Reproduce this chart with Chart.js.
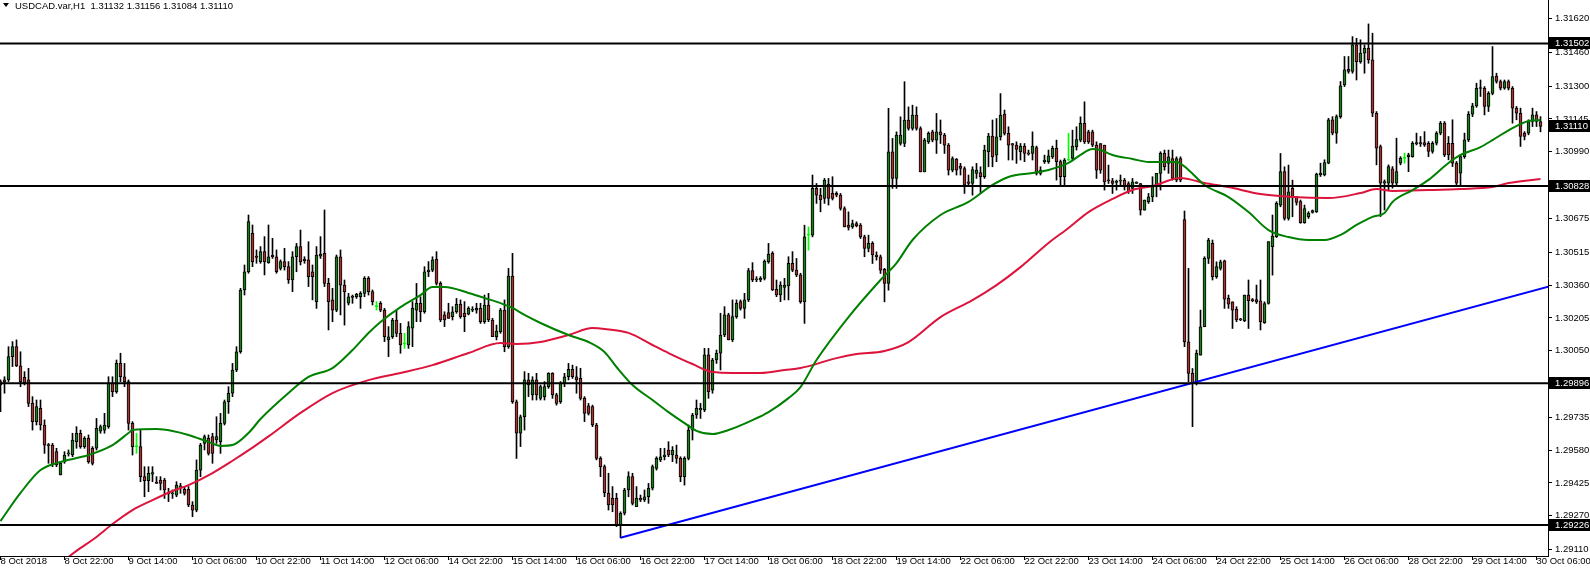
<!DOCTYPE html>
<html>
<head>
<meta charset="utf-8">
<script src="https://cdn.jsdelivr.net/npm/chart.js@4.4.0/dist/chart.umd.min.js"></script>
<style>
  html, body { margin: 0; padding: 0; background: #fff; }
  #wrap { width: 1590px; height: 570px; }
</style>
</head>
<body>
<div id="wrap"><canvas id="chart" width="1590" height="570"></canvas></div>
<script>
const symbolTitle = 'USDCAD.var,H1  1.31132 1.31156 1.31084 1.31110'

// one label every 16 hourly bars, the first one sits on bar -1
const firstBar = -1
const labelStep = 16
const timeLabels = ['8 Oct 2018', '8 Oct 22:00', '9 Oct 14:00', '10 Oct 06:00', '10 Oct 22:00', '11 Oct 14:00',
  '12 Oct 06:00', '14 Oct 22:00', '15 Oct 14:00', '16 Oct 06:00', '16 Oct 22:00', '17 Oct 14:00', '18 Oct 06:00',
  '18 Oct 22:00', '19 Oct 14:00', '22 Oct 06:00', '22 Oct 22:00', '23 Oct 14:00', '24 Oct 06:00', '24 Oct 22:00',
  '25 Oct 14:00', '26 Oct 06:00', '28 Oct 22:00', '29 Oct 14:00', '30 Oct 06:00']

const opens = [
  1.29904, 1.29912, 1.29912, 1.30022, 1.30069, 1.29978, 1.29924, 1.29912, 1.29801, 1.29715, 1.29778,
  1.29699, 1.29607, 1.29604, 1.29573, 1.29463, 1.29526, 1.29562, 1.29557, 1.29620, 1.29660,
  1.29597, 1.29636, 1.29589, 1.29589, 1.29670, 1.29675, 1.29691, 1.29896, 1.29856, 1.29990,
  1.29927, 1.29904, 1.29707, 1.29597, 1.29597, 1.29455, 1.29436, 1.29467, 1.29429, 1.29439,
  1.29439, 1.29379, 1.29373, 1.29368, 1.29404, 1.29395, 1.29395, 1.29321, 1.29297, 1.29486,
  1.29612, 1.29636, 1.29644, 1.29628, 1.29620, 1.29707, 1.29809, 1.29849, 1.29959, 1.30045,
  1.30337, 1.30423, 1.30605, 1.30497, 1.30471, 1.30518, 1.30466, 1.30501, 1.30494, 1.30439,
  1.30471, 1.30447, 1.30384, 1.30494, 1.30542, 1.30482, 1.30479, 1.30423, 1.30282, 1.30497,
  1.30510, 1.30368, 1.30290, 1.30242, 1.30494, 1.30360, 1.30274, 1.30302, 1.30305, 1.30305,
  1.30321, 1.30392, 1.30329, 1.30258, 1.30274, 1.30242, 1.30101, 1.30116, 1.30195, 1.30132,
  1.30082, 1.30077, 1.30156, 1.30242, 1.30274, 1.30234, 1.30423, 1.30431, 1.30482, 1.30368,
  1.30219, 1.30230, 1.30211, 1.30234, 1.30269, 1.30227, 1.30223, 1.30242, 1.30242, 1.30250,
  1.30187, 1.30266, 1.30195, 1.30116, 1.30140, 1.30242, 1.30069, 1.30403, 1.29809, 1.29660,
  1.29738, 1.29912, 1.29841, 1.29912, 1.29825, 1.29833, 1.29880, 1.29943, 1.29841, 1.29809,
  1.29896, 1.29927, 1.29962, 1.29927, 1.29919, 1.29825, 1.29789, 1.29786, 1.29699, 1.29541,
  1.29502, 1.29376, 1.29352, 1.29352, 1.29226, 1.29282, 1.29392, 1.29455, 1.29313, 1.29352,
  1.29345, 1.29360, 1.29400, 1.29494, 1.29534, 1.29549, 1.29581, 1.29557, 1.29557, 1.29541,
  1.29455, 1.29541, 1.29675, 1.29746, 1.29770, 1.29770, 1.30030, 1.29864, 1.30006, 1.30038,
  1.30124, 1.30219, 1.30101, 1.30211, 1.30282, 1.30250, 1.30290, 1.30428, 1.30384, 1.30384,
  1.30392, 1.30471, 1.30510, 1.30340, 1.30313, 1.30349, 1.30356, 1.30463, 1.30431, 1.30408,
  1.30281, 1.30596, 1.30596, 1.30817, 1.30785, 1.30769, 1.30837, 1.30793, 1.30793, 1.30785,
  1.30722, 1.30643, 1.30635, 1.30651, 1.30643, 1.30588, 1.30533, 1.30557, 1.30502, 1.30494,
  1.30434, 1.30368, 1.30990, 1.30864, 1.31029, 1.31029, 1.31140, 1.31100, 1.31163, 1.31100,
  1.30895, 1.31037, 1.31084, 1.31045, 1.31084, 1.31069, 1.31021, 1.30903, 1.30955, 1.30922,
  1.30911, 1.30848, 1.30840, 1.30888, 1.30891, 1.30872, 1.30990, 1.31064, 1.30974, 1.31061,
  1.31168, 1.31077, 1.31029, 1.31021, 1.30990, 1.31017, 1.30985, 1.30982, 1.31010, 1.30888,
  1.30943, 1.30943, 1.30966, 1.31006, 1.30943, 1.30872, 1.30951, 1.30958, 1.31014, 1.31045,
  1.31124, 1.31084, 1.31084, 1.31021, 1.31029, 1.31021, 1.30856, 1.30853, 1.30845, 1.30851,
  1.30856, 1.30840, 1.30817, 1.30840, 1.30840, 1.30714, 1.30754, 1.30777, 1.30825, 1.30888,
  1.30982, 1.30935, 1.30958, 1.30856, 1.30958, 1.30670, 1.30092, 1.29943, 1.29896, 1.30029,
  1.30163, 1.30486, 1.30557, 1.30400, 1.30439, 1.30475, 1.30297, 1.30281, 1.30245, 1.30201,
  1.30192, 1.30313, 1.30292, 1.30292, 1.30286, 1.30182, 1.30273, 1.30541, 1.30589, 1.30738,
  1.30896, 1.30675, 1.30817, 1.30778, 1.30754, 1.30655, 1.30683, 1.30703, 1.30707, 1.30881,
  1.30881, 1.30936, 1.31141, 1.31078, 1.31156, 1.31306, 1.31380, 1.31369, 1.31495, 1.31416,
  1.31456, 1.31479, 1.31424, 1.31172, 1.31015, 1.30841, 1.30841, 1.30909, 1.30841, 1.30936,
  1.30959, 1.30967, 1.30967, 1.31027, 1.31033, 1.31033, 1.31030, 1.30991, 1.31030, 1.31078,
  1.31125, 1.31030, 1.31030, 1.30936, 1.30889, 1.30967, 1.31046, 1.31167, 1.31207, 1.31289,
  1.31290, 1.31204, 1.31266, 1.31348, 1.31322, 1.31290, 1.31322, 1.31290, 1.31196, 1.31172,
  1.31078, 1.31078, 1.31133, 1.31164, 1.31132
]
const highs = [
  1.29912, 1.29927, 1.30069, 1.30093, 1.30101, 1.30045, 1.29951, 1.29967, 1.29833, 1.29817, 1.29817,
  1.29723, 1.29612, 1.29612, 1.29589, 1.29526, 1.29573, 1.29581, 1.29660, 1.29691, 1.29675,
  1.29644, 1.29652, 1.29597, 1.29730, 1.29699, 1.29754, 1.29927, 1.29927, 1.30006, 1.30038,
  1.29990, 1.29912, 1.29715, 1.29660, 1.29675, 1.29502, 1.29502, 1.29502, 1.29455, 1.29455,
  1.29447, 1.29400, 1.29392, 1.29431, 1.29423, 1.29408, 1.29408, 1.29337, 1.29534, 1.29612,
  1.29652, 1.29652, 1.29660, 1.29738, 1.29754, 1.29817, 1.29880, 1.29990, 1.30069, 1.30345,
  1.30455, 1.30691, 1.30644, 1.30526, 1.30542, 1.30589, 1.30644, 1.30581, 1.30526, 1.30479,
  1.30534, 1.30471, 1.30518, 1.30557, 1.30620, 1.30494, 1.30565, 1.30455, 1.30542, 1.30589,
  1.30715, 1.30392, 1.30345, 1.30502, 1.30526, 1.30384, 1.30321, 1.30313, 1.30321, 1.30329,
  1.30400, 1.30400, 1.30337, 1.30282, 1.30282, 1.30250, 1.30164, 1.30203, 1.30242, 1.30179,
  1.30132, 1.30187, 1.30282, 1.30368, 1.30305, 1.30447, 1.30471, 1.30494, 1.30518, 1.30376,
  1.30234, 1.30274, 1.30258, 1.30297, 1.30290, 1.30282, 1.30258, 1.30258, 1.30274, 1.30274,
  1.30313, 1.30321, 1.30203, 1.30171, 1.30250, 1.30290, 1.30439, 1.30510, 1.29817, 1.29746,
  1.29951, 1.29943, 1.29927, 1.29943, 1.29888, 1.29904, 1.29946, 1.29946, 1.29849, 1.29904,
  1.29943, 1.29990, 1.29982, 1.29975, 1.29967, 1.29833, 1.29801, 1.29793, 1.29707, 1.29549,
  1.29510, 1.29471, 1.29408, 1.29376, 1.29289, 1.29400, 1.29478, 1.29471, 1.29408, 1.29368,
  1.29392, 1.29423, 1.29510, 1.29549, 1.29589, 1.29589, 1.29620, 1.29597, 1.29604, 1.29549,
  1.29549, 1.29699, 1.29754, 1.29817, 1.29801, 1.30061, 1.30061, 1.30014, 1.30053, 1.30227,
  1.30258, 1.30227, 1.30290, 1.30290, 1.30290, 1.30321, 1.30439, 1.30466, 1.30400, 1.30400,
  1.30479, 1.30557, 1.30518, 1.30384, 1.30376, 1.30392, 1.30494, 1.30518, 1.30486, 1.30416,
  1.30643, 1.30635, 1.30880, 1.30840, 1.30817, 1.30864, 1.30864, 1.30872, 1.30801, 1.30793,
  1.30730, 1.30706, 1.30667, 1.30659, 1.30651, 1.30596, 1.30596, 1.30565, 1.30517, 1.30502,
  1.30439, 1.31195, 1.31053, 1.31084, 1.31155, 1.31321, 1.31202, 1.31210, 1.31202, 1.31108,
  1.31053, 1.31084, 1.31092, 1.31171, 1.31140, 1.31077, 1.31029, 1.30966, 1.30958, 1.30935,
  1.30919, 1.30880, 1.30919, 1.30935, 1.30919, 1.31021, 1.31077, 1.31140, 1.31147, 1.31265,
  1.31187, 1.31108, 1.31029, 1.31037, 1.31029, 1.31029, 1.30998, 1.31084, 1.31017, 1.30919,
  1.30974, 1.30998, 1.31017, 1.31045, 1.30951, 1.30958, 1.31077, 1.31092, 1.31108, 1.31155,
  1.31226, 1.31092, 1.31092, 1.31037, 1.31029, 1.31021, 1.30927, 1.30864, 1.30856, 1.30880,
  1.30864, 1.30848, 1.30864, 1.30848, 1.30840, 1.30762, 1.30793, 1.30872, 1.30888, 1.30990,
  1.30998, 1.30998, 1.30998, 1.30966, 1.30966, 1.30710, 1.30439, 1.29966, 1.30053, 1.30242,
  1.30494, 1.30581, 1.30573, 1.30470, 1.30478, 1.30478, 1.30313, 1.30281, 1.30258, 1.30203,
  1.30313, 1.30384, 1.30297, 1.30360, 1.30384, 1.30281, 1.30565, 1.30691, 1.30754, 1.30982,
  1.30919, 1.30927, 1.30856, 1.30778, 1.30762, 1.30738, 1.30707, 1.30715, 1.30889, 1.30936,
  1.30952, 1.31148, 1.31156, 1.31164, 1.31322, 1.31440, 1.31440, 1.31534, 1.31526, 1.31519,
  1.31495, 1.31594, 1.31550, 1.31180, 1.31022, 1.30857, 1.30928, 1.30920, 1.31054, 1.30967,
  1.30983, 1.30983, 1.31038, 1.31078, 1.31062, 1.31085, 1.31038, 1.31038, 1.31085, 1.31133,
  1.31133, 1.31062, 1.31141, 1.30944, 1.30975, 1.31078, 1.31180, 1.31219, 1.31314, 1.31329,
  1.31298, 1.31274, 1.31487, 1.31361, 1.31329, 1.31329, 1.31329, 1.31298, 1.31204, 1.31196,
  1.31085, 1.31141, 1.31196, 1.31180, 1.31156
]
const lows = [
  1.29762, 1.29849, 1.29904, 1.29975, 1.29975, 1.29880, 1.29888, 1.29786, 1.29675, 1.29699, 1.29675,
  1.29565, 1.29518, 1.29502, 1.29502, 1.29463, 1.29518, 1.29552, 1.29549, 1.29589, 1.29589,
  1.29589, 1.29518, 1.29510, 1.29581, 1.29660, 1.29660, 1.29683, 1.29833, 1.29849, 1.29904,
  1.29880, 1.29675, 1.29557, 1.29565, 1.29431, 1.29360, 1.29384, 1.29431, 1.29423, 1.29392,
  1.29352, 1.29337, 1.29352, 1.29360, 1.29376, 1.29368, 1.29313, 1.29266, 1.29289, 1.29455,
  1.29581, 1.29557, 1.29518, 1.29612, 1.29565, 1.29699, 1.29754, 1.29833, 1.29951, 1.30038,
  1.30313, 1.30416, 1.30447, 1.30463, 1.30463, 1.30408, 1.30463, 1.30486, 1.30416, 1.30431,
  1.30431, 1.30368, 1.30329, 1.30423, 1.30455, 1.30463, 1.30353, 1.30290, 1.30250, 1.30486,
  1.30353, 1.30148, 1.30187, 1.30234, 1.30219, 1.30171, 1.30266, 1.30274, 1.30297, 1.30250,
  1.30305, 1.30313, 1.30266, 1.30242, 1.30234, 1.30093, 1.30022, 1.30108, 1.30116, 1.30038,
  1.30061, 1.30061, 1.30069, 1.30187, 1.30187, 1.30227, 1.30400, 1.30423, 1.30360, 1.30187,
  1.30164, 1.30203, 1.30195, 1.30227, 1.30203, 1.30140, 1.30219, 1.30234, 1.30227, 1.30179,
  1.30179, 1.30187, 1.30116, 1.30101, 1.30132, 1.30045, 1.30061, 1.29801, 1.29541, 1.29597,
  1.29675, 1.29833, 1.29817, 1.29817, 1.29817, 1.29817, 1.29872, 1.29825, 1.29793, 1.29801,
  1.29880, 1.29912, 1.29919, 1.29849, 1.29817, 1.29715, 1.29746, 1.29691, 1.29534, 1.29455,
  1.29360, 1.29297, 1.29289, 1.29219, 1.29166, 1.29274, 1.29360, 1.29321, 1.29313, 1.29337,
  1.29337, 1.29329, 1.29392, 1.29486, 1.29526, 1.29534, 1.29549, 1.29526, 1.29518, 1.29431,
  1.29415, 1.29534, 1.29628, 1.29730, 1.29730, 1.29762, 1.29825, 1.29849, 1.29990, 1.29959,
  1.30116, 1.30101, 1.30093, 1.30203, 1.30242, 1.30203, 1.30282, 1.30376, 1.30376, 1.30376,
  1.30384, 1.30463, 1.30334, 1.30305, 1.30282, 1.30290, 1.30290, 1.30423, 1.30400, 1.30274,
  1.30179, 1.30525, 1.30588, 1.30746, 1.30706, 1.30746, 1.30738, 1.30762, 1.30777, 1.30714,
  1.30635, 1.30620, 1.30628, 1.30635, 1.30580, 1.30494, 1.30517, 1.30462, 1.30478, 1.30415,
  1.30281, 1.30336, 1.30817, 1.30817, 1.31021, 1.31014, 1.31092, 1.31092, 1.31092, 1.30895,
  1.30895, 1.31029, 1.31037, 1.30982, 1.31029, 1.30982, 1.30880, 1.30895, 1.30880, 1.30880,
  1.30793, 1.30832, 1.30785, 1.30864, 1.30793, 1.30864, 1.30919, 1.30919, 1.30943, 1.31045,
  1.31069, 1.30951, 1.30951, 1.30935, 1.30951, 1.30943, 1.30974, 1.30951, 1.30880, 1.30880,
  1.30935, 1.30935, 1.30958, 1.30856, 1.30832, 1.30825, 1.30948, 1.30951, 1.30998, 1.31037,
  1.31029, 1.31029, 1.31014, 1.30864, 1.30888, 1.30809, 1.30840, 1.30793, 1.30809, 1.30825,
  1.30809, 1.30793, 1.30793, 1.30840, 1.30691, 1.30714, 1.30746, 1.30754, 1.30777, 1.30809,
  1.30903, 1.30888, 1.30856, 1.30848, 1.30848, 1.30069, 1.29903, 1.29691, 1.29888, 1.30029,
  1.30163, 1.30462, 1.30384, 1.30392, 1.30431, 1.30250, 1.30250, 1.30155, 1.30187, 1.30192,
  1.30187, 1.30155, 1.30281, 1.30273, 1.30148, 1.30179, 1.30270, 1.30407, 1.30585, 1.30730,
  1.30667, 1.30667, 1.30683, 1.30738, 1.30652, 1.30652, 1.30675, 1.30700, 1.30703, 1.30873,
  1.30876, 1.30933, 1.31070, 1.31030, 1.31148, 1.31298, 1.31361, 1.31361, 1.31329, 1.31408,
  1.31361, 1.31408, 1.31156, 1.30928, 1.30684, 1.30715, 1.30810, 1.30818, 1.30833, 1.30928,
  1.30936, 1.30896, 1.30964, 1.31022, 1.31015, 1.31015, 1.30967, 1.30983, 1.31022, 1.31070,
  1.30967, 1.30952, 1.30920, 1.30833, 1.30833, 1.30959, 1.31038, 1.31156, 1.31200, 1.31251,
  1.31164, 1.31180, 1.31259, 1.31314, 1.31282, 1.31285, 1.31282, 1.31125, 1.31141, 1.31015,
  1.31046, 1.31070, 1.31109, 1.31109, 1.31084
]
const closes = [
  1.29888, 1.29902, 1.30022, 1.30069, 1.29978, 1.29904, 1.29899, 1.29801, 1.29715, 1.29786, 1.29699,
  1.29604, 1.29601, 1.29510, 1.29510, 1.29518, 1.29557, 1.29568, 1.29628, 1.29660, 1.29597,
  1.29636, 1.29526, 1.29518, 1.29683, 1.29691, 1.29699, 1.29896, 1.29856, 1.29990, 1.29927,
  1.29904, 1.29707, 1.29597, 1.29597, 1.29455, 1.29436, 1.29471, 1.29474, 1.29423, 1.29423,
  1.29392, 1.29373, 1.29379, 1.29415, 1.29411, 1.29376, 1.29321, 1.29297, 1.29486, 1.29604,
  1.29644, 1.29565, 1.29565, 1.29644, 1.29707, 1.29809, 1.29849, 1.29959, 1.30045, 1.30337,
  1.30423, 1.30660, 1.30471, 1.30491, 1.30518, 1.30471, 1.30494, 1.30494, 1.30423, 1.30471,
  1.30447, 1.30384, 1.30494, 1.30542, 1.30471, 1.30475, 1.30400, 1.30400, 1.30502, 1.30507,
  1.30368, 1.30282, 1.30242, 1.30494, 1.30360, 1.30329, 1.30305, 1.30308, 1.30316, 1.30321,
  1.30392, 1.30329, 1.30282, 1.30258, 1.30242, 1.30116, 1.30116, 1.30195, 1.30132, 1.30077,
  1.30082, 1.30164, 1.30250, 1.30274, 1.30234, 1.30423, 1.30431, 1.30479, 1.30368, 1.30195,
  1.30195, 1.30203, 1.30234, 1.30269, 1.30211, 1.30211, 1.30250, 1.30247, 1.30250, 1.30187,
  1.30266, 1.30195, 1.30116, 1.30143, 1.30242, 1.30069, 1.30403, 1.29809, 1.29660, 1.29738,
  1.29912, 1.29888, 1.29912, 1.29841, 1.29880, 1.29880, 1.29943, 1.29841, 1.29801, 1.29896,
  1.29927, 1.29962, 1.29927, 1.29912, 1.29825, 1.29754, 1.29754, 1.29699, 1.29541, 1.29502,
  1.29379, 1.29321, 1.29321, 1.29226, 1.29282, 1.29392, 1.29455, 1.29329, 1.29352, 1.29345,
  1.29360, 1.29400, 1.29502, 1.29541, 1.29549, 1.29557, 1.29557, 1.29581, 1.29541, 1.29455,
  1.29541, 1.29675, 1.29746, 1.29778, 1.29778, 1.30030, 1.29856, 1.30006, 1.30038, 1.30124,
  1.30219, 1.30101, 1.30211, 1.30274, 1.30250, 1.30290, 1.30428, 1.30384, 1.30390, 1.30392,
  1.30474, 1.30507, 1.30337, 1.30313, 1.30360, 1.30360, 1.30463, 1.30431, 1.30408, 1.30282,
  1.30588, 1.30596, 1.30817, 1.30785, 1.30762, 1.30856, 1.30769, 1.30769, 1.30785, 1.30722,
  1.30635, 1.30632, 1.30651, 1.30640, 1.30588, 1.30533, 1.30557, 1.30502, 1.30494, 1.30431,
  1.30368, 1.30990, 1.30864, 1.31069, 1.31069, 1.31140, 1.31100, 1.31163, 1.31100, 1.30895,
  1.31045, 1.31077, 1.31045, 1.31084, 1.31069, 1.31021, 1.30903, 1.30958, 1.30903, 1.30911,
  1.30832, 1.30840, 1.30906, 1.30903, 1.30872, 1.30998, 1.31064, 1.30966, 1.31061, 1.31163,
  1.31077, 1.31021, 1.31021, 1.31001, 1.31017, 1.30982, 1.30979, 1.31017, 1.30888, 1.30903,
  1.30951, 1.30971, 1.31006, 1.30943, 1.30872, 1.30951, 1.30951, 1.31017, 1.31048, 1.31124,
  1.31037, 1.31037, 1.31021, 1.30903, 1.30903, 1.30848, 1.30853, 1.30840, 1.30848, 1.30854,
  1.30825, 1.30801, 1.30848, 1.30847, 1.30714, 1.30762, 1.30777, 1.30825, 1.30888, 1.30982,
  1.30919, 1.30966, 1.30864, 1.30958, 1.30856, 1.30092, 1.29943, 1.29896, 1.30037, 1.30163,
  1.30486, 1.30573, 1.30400, 1.30447, 1.30470, 1.30294, 1.30270, 1.30242, 1.30195, 1.30195,
  1.30313, 1.30286, 1.30286, 1.30281, 1.30187, 1.30273, 1.30565, 1.30592, 1.30746, 1.30896,
  1.30675, 1.30801, 1.30778, 1.30751, 1.30655, 1.30722, 1.30699, 1.30712, 1.30885, 1.30889,
  1.30939, 1.31141, 1.31078, 1.31156, 1.31301, 1.31377, 1.31369, 1.31495, 1.31416, 1.31456,
  1.31479, 1.31424, 1.31172, 1.31007, 1.30841, 1.30849, 1.30920, 1.30841, 1.30896, 1.30959,
  1.30959, 1.30975, 1.31030, 1.31033, 1.31027, 1.31022, 1.30991, 1.31030, 1.31078, 1.31125,
  1.30975, 1.30975, 1.30936, 1.30841, 1.30967, 1.31046, 1.31167, 1.31207, 1.31290, 1.31292,
  1.31204, 1.31266, 1.31345, 1.31322, 1.31290, 1.31322, 1.31290, 1.31196, 1.31172, 1.31062,
  1.31062, 1.31133, 1.31164, 1.31133, 1.31110
]

// moving averages at a handful of bars
const fastMaBars = [-1, 4, 9, 13, 21, 27, 31, 32, 38, 42, 46, 51, 54, 57, 61, 64, 71, 76, 82, 87, 91, 94, 99,
  104, 107, 110, 116, 120, 124, 127, 130, 134, 141, 146, 150, 153, 157, 162, 166, 170, 173, 177, 181, 187, 191,
  196, 199, 203, 211, 219, 223, 227, 234, 241, 247, 251, 257, 261, 266, 269, 272, 274, 277, 282, 286, 289, 293,
  296, 300, 306, 311, 316, 321, 326, 330, 334, 338, 342, 345, 347, 352, 356, 361, 364, 369, 372, 377, 381, 384]
const fastMaValues = [1.29245, 1.29378, 1.29486, 1.29519, 1.29557, 1.29604, 1.29661, 1.29675, 1.29680, 1.29671,
  1.29652, 1.29619, 1.29600, 1.29604, 1.29661, 1.29727, 1.29850, 1.29926, 1.29968, 1.30053, 1.30134, 1.30186,
  1.30256, 1.30313, 1.30351, 1.30351, 1.30323, 1.30299, 1.30275, 1.30252, 1.30219, 1.30181, 1.30124, 1.30091,
  1.30044, 1.29973, 1.29888, 1.29817, 1.29760, 1.29708, 1.29671, 1.29656, 1.29675, 1.29722, 1.29760, 1.29826,
  1.29878, 1.30006, 1.30209, 1.30384, 1.30464, 1.30573, 1.30691, 1.30753, 1.30833, 1.30871, 1.30890, 1.30904,
  1.30937, 1.30975, 1.31003, 1.30998, 1.30975, 1.30956, 1.30942, 1.30942, 1.30942, 1.30904, 1.30833, 1.30776,
  1.30705, 1.30620, 1.30587, 1.30573, 1.30573, 1.30597, 1.30644, 1.30682, 1.30701, 1.30753, 1.30809, 1.30857,
  1.30937, 1.30975, 1.31012, 1.31045, 1.31102, 1.31135, 1.31140]
const slowMaBars = [15, 18, 23, 27, 32, 37, 42, 46, 52, 57, 62, 66, 74, 82, 91, 99, 107, 116, 124, 128, 134, 141,
  147, 150, 156, 162, 166, 172, 177, 182, 189, 195, 199, 208, 213, 220, 226, 234, 242, 248, 254, 261, 266, 271,
  277, 282, 287, 294, 300, 306, 314, 322, 331, 339, 343, 347, 356, 364, 372, 376, 384]
const slowMaValues = [1.29061, 1.29104, 1.29170, 1.29231, 1.29297, 1.29344, 1.29387, 1.29415, 1.29472, 1.29530,
  1.29592, 1.29645, 1.29756, 1.29850, 1.29911, 1.29945, 1.29982, 1.30039, 1.30086, 1.30082, 1.30091, 1.30124,
  1.30157, 1.30153, 1.30134, 1.30077, 1.30039, 1.29987, 1.29949, 1.29945, 1.29945, 1.29959, 1.29968, 1.30015,
  1.30034, 1.30049, 1.30091, 1.30209, 1.30289, 1.30360, 1.30445, 1.30559, 1.30630, 1.30705, 1.30767, 1.30809,
  1.30828, 1.30866, 1.30842, 1.30823, 1.30790, 1.30776, 1.30771, 1.30795, 1.30814, 1.30805, 1.30809, 1.30814,
  1.30823, 1.30842, 1.30861]

const levelPrices = [1.31502, 1.30828, 1.29896, 1.29226]
const trendBars = [154, 386]
const trendPrices = [1.29166, 1.30353]
const lastPrice = 1.31110
const priceTicks = [1.31620, 1.31460, 1.31300, 1.31145, 1.30990, 1.30675, 1.30515, 1.30360, 1.30205, 1.30050,
  1.29735, 1.29580, 1.29425, 1.29270, 1.29110]

const xMin = -1.125
const xMax = 385.875
const yMin = 1.29080
const yMax = 1.31707

const font = { family: 'Liberation Sans', size: 9.5 }
const bullFill = '#1d7a1d'
const bearFill = '#a33333'
const dojiColor = '#00ff00'

const barNo = opens.map((_, i) => firstBar + i)
const isDoji = i => opens[i] === closes[i]

const wickData = barNo.map((k, i) => ({ x: k, y: [lows[i], highs[i]] }))
const bodyData = barNo.map((k, i) => ({ x: k, y: [opens[i], closes[i]] }))
const wickColors = barNo.map((k, i) => isDoji(i) ? dojiColor : '#000')
const bodyColors = barNo.map((k, i) => isDoji(i) ? dojiColor : (closes[i] > opens[i] ? bullFill : bearFill))

const lineDs = (data, color, extra) => Object.assign({
  type: 'line',
  data,
  borderColor: color,
  borderWidth: 2,
  pointRadius: 0,
  fill: false,
}, extra || {})

const levelSets = levelPrices.map(v => lineDs([{ x: xMin, y: v }, { x: xMax, y: v }], '#000', { order: 0 }))

const overlay = {
  id: 'overlay',
  afterDraw(chart) {
    const ctx = chart.ctx
    const y = chart.scales.y
    const area = chart.chartArea
    ctx.save()
    // symbol header
    ctx.fillStyle = '#000'
    ctx.beginPath()
    ctx.moveTo(3, 3)
    ctx.lineTo(9, 3)
    ctx.lineTo(6, 7)
    ctx.closePath()
    ctx.fill()
    ctx.font = '9.5px "Liberation Sans"'
    ctx.textBaseline = 'alphabetic'
    ctx.fillText(symbolTitle, 15, 8.5)

    // price boxes on the axis
    ctx.textBaseline = 'middle'
    levelPrices.concat([lastPrice]).forEach(v => {
      const py = Math.round(y.getPixelForValue(v))
      ctx.fillStyle = '#000'
      ctx.fillRect(area.right + 1, py - 6, chart.width - area.right - 1, 12)
      ctx.fillStyle = '#fff'
      ctx.fillText(v.toFixed(5), area.right + 7, py + 0.5)
    })
    ctx.restore()
  }
}

new Chart(document.getElementById('chart'), {
  type: 'bar',
  data: {
    datasets: [
      ...levelSets,
      lineDs(trendBars.map((k, i) => ({ x: k, y: trendPrices[i] })), '#0000ff', { order: 1 }),
      lineDs(fastMaBars.map((k, i) => ({ x: k, y: fastMaValues[i] })), '#008000', { order: 2, cubicInterpolationMode: 'monotone' }),
      lineDs(slowMaBars.map((k, i) => ({ x: k, y: slowMaValues[i] })), '#dc143c', { order: 3, cubicInterpolationMode: 'monotone' }),
      {
        type: 'bar',
        data: bodyData,
        backgroundColor: bodyColors,
        borderColor: wickColors,
        borderWidth: 1,
        borderSkipped: false,
        barThickness: 3,
        minBarLength: 1,
        grouped: false,
        order: 4
      },
      {
        type: 'bar',
        data: wickData,
        backgroundColor: wickColors,
        borderWidth: 0,
        barThickness: 1,
        grouped: false,
        order: 5
      }
    ]
  },
  options: {
    responsive: false,
    animation: false,
    events: [],
    layout: { padding: 0 },
    plugins: { legend: { display: false }, tooltip: { enabled: false } },
    scales: {
      x: {
        type: 'linear',
        min: xMin,
        max: xMax,
        offset: false,
        grid: { drawOnChartArea: false, tickLength: 4, color: '#000', offset: false },
        border: { color: '#000' },
        ticks: {
          autoSkip: false,
          maxRotation: 0,
          align: 'start',
          padding: -4,
          color: '#000',
          font,
          callback: (v, i) => timeLabels[i]
        },
        afterBuildTicks: s => { s.ticks = timeLabels.map((_, j) => ({ value: firstBar + labelStep * j })) },
        afterFit: s => { s.height = 14; s.paddingLeft = 0; s.paddingRight = 0 }
      },
      y: {
        position: 'right',
        min: yMin,
        max: yMax,
        grid: { drawOnChartArea: false, tickLength: 4, color: '#000' },
        border: { color: '#000' },
        ticks: { color: '#000', padding: 3, font, callback: v => v.toFixed(5) },
        afterBuildTicks: s => { s.ticks = priceTicks.map(v => ({ value: v })) },
        afterFit: s => { s.width = 42; s.paddingTop = 0; s.paddingBottom = 0 }
      }
    }
  },
  plugins: [overlay]
})
</script>
</body>
</html>
